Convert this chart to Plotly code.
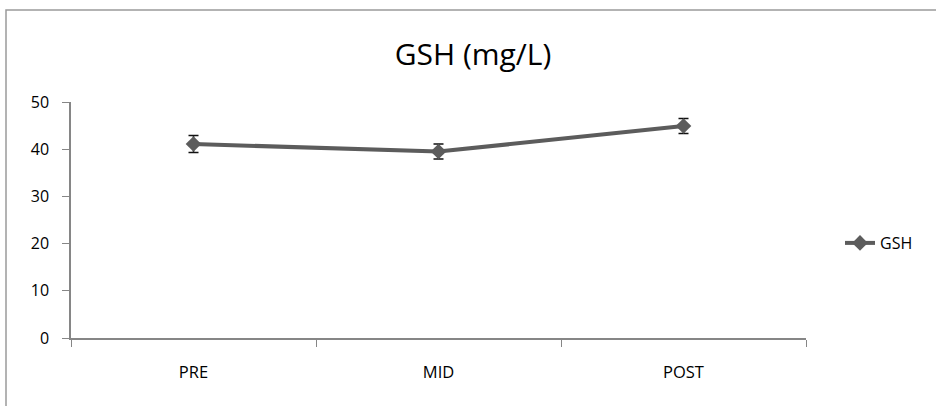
import plotly.graph_objects as go

categories = ["PRE", "MID", "POST"]
gsh_values = [41.1, 39.5, 44.9]
gsh_errors = [1.8, 1.6, 1.6]
y_ticks = [0, 10, 20, 30, 40, 50]

L, R, T, B = 71, 130, 102, 68
W, H = 936, 406
pw, ph = W - L - R, H - T - B

def px_to_paper_x(px):
    return (px - L) / pw

def px_to_paper_y(py):
    return (H - B - py) / ph

fig = go.Figure()
fig.add_trace(go.Scatter(
    x=categories, y=gsh_values, name="GSH", mode="lines+markers",
    line=dict(color="#5c5c5c", width=4),
    marker=dict(symbol="diamond", size=12, color="#5c5c5c"),
    error_y=dict(type="data", array=gsh_errors, visible=True, color="#111111", thickness=1.5, width=5),
))

fig.update_layout(
    width=W, height=H,
    margin=dict(l=L, r=R, t=T, b=B),
    paper_bgcolor="white", plot_bgcolor="white",
    font=dict(family="Open Sans, Liberation Sans, sans-serif", color="#000000", size=16),
    title=dict(text="GSH (mg/L)", x=473 / W, xref="container",
               xanchor="center", y=1 - 54 / H, yanchor="middle",
               font=dict(size=30, color="#000000")),
    showlegend=True,
    legend=dict(x=px_to_paper_x(840), y=px_to_paper_y(243), xanchor="left", yanchor="middle",
                font=dict(size=16), bgcolor="rgba(0,0,0,0)", itemwidth=30),
    xaxis=dict(type="category", range=[-0.5, 2.5], showgrid=False, showline=True,
               linecolor="#868686", linewidth=1.5, ticks="outside", tickson="boundaries",
               ticklen=7, tickcolor="#868686", tickfont=dict(size=16.5), ticklabelstandoff=18),
    yaxis=dict(range=[0, 50], tickvals=y_ticks, showgrid=False, showline=True, zeroline=False,
               linecolor="#868686", linewidth=1.5, ticks="outside", ticklen=7,
               tickcolor="#868686", tickfont=dict(size=16), ticklabelstandoff=10),
    shapes=[dict(type="rect", xref="paper", yref="paper",
                 x0=px_to_paper_x(6), x1=px_to_paper_x(960),
                 y0=px_to_paper_y(430), y1=px_to_paper_y(10),
                 line=dict(color="#9a9a9a", width=1.5), layer="below")],
)

fig.write_html("out.html", config={"displayModeBar": False},
               post_script="document.body.style.margin='0';")
